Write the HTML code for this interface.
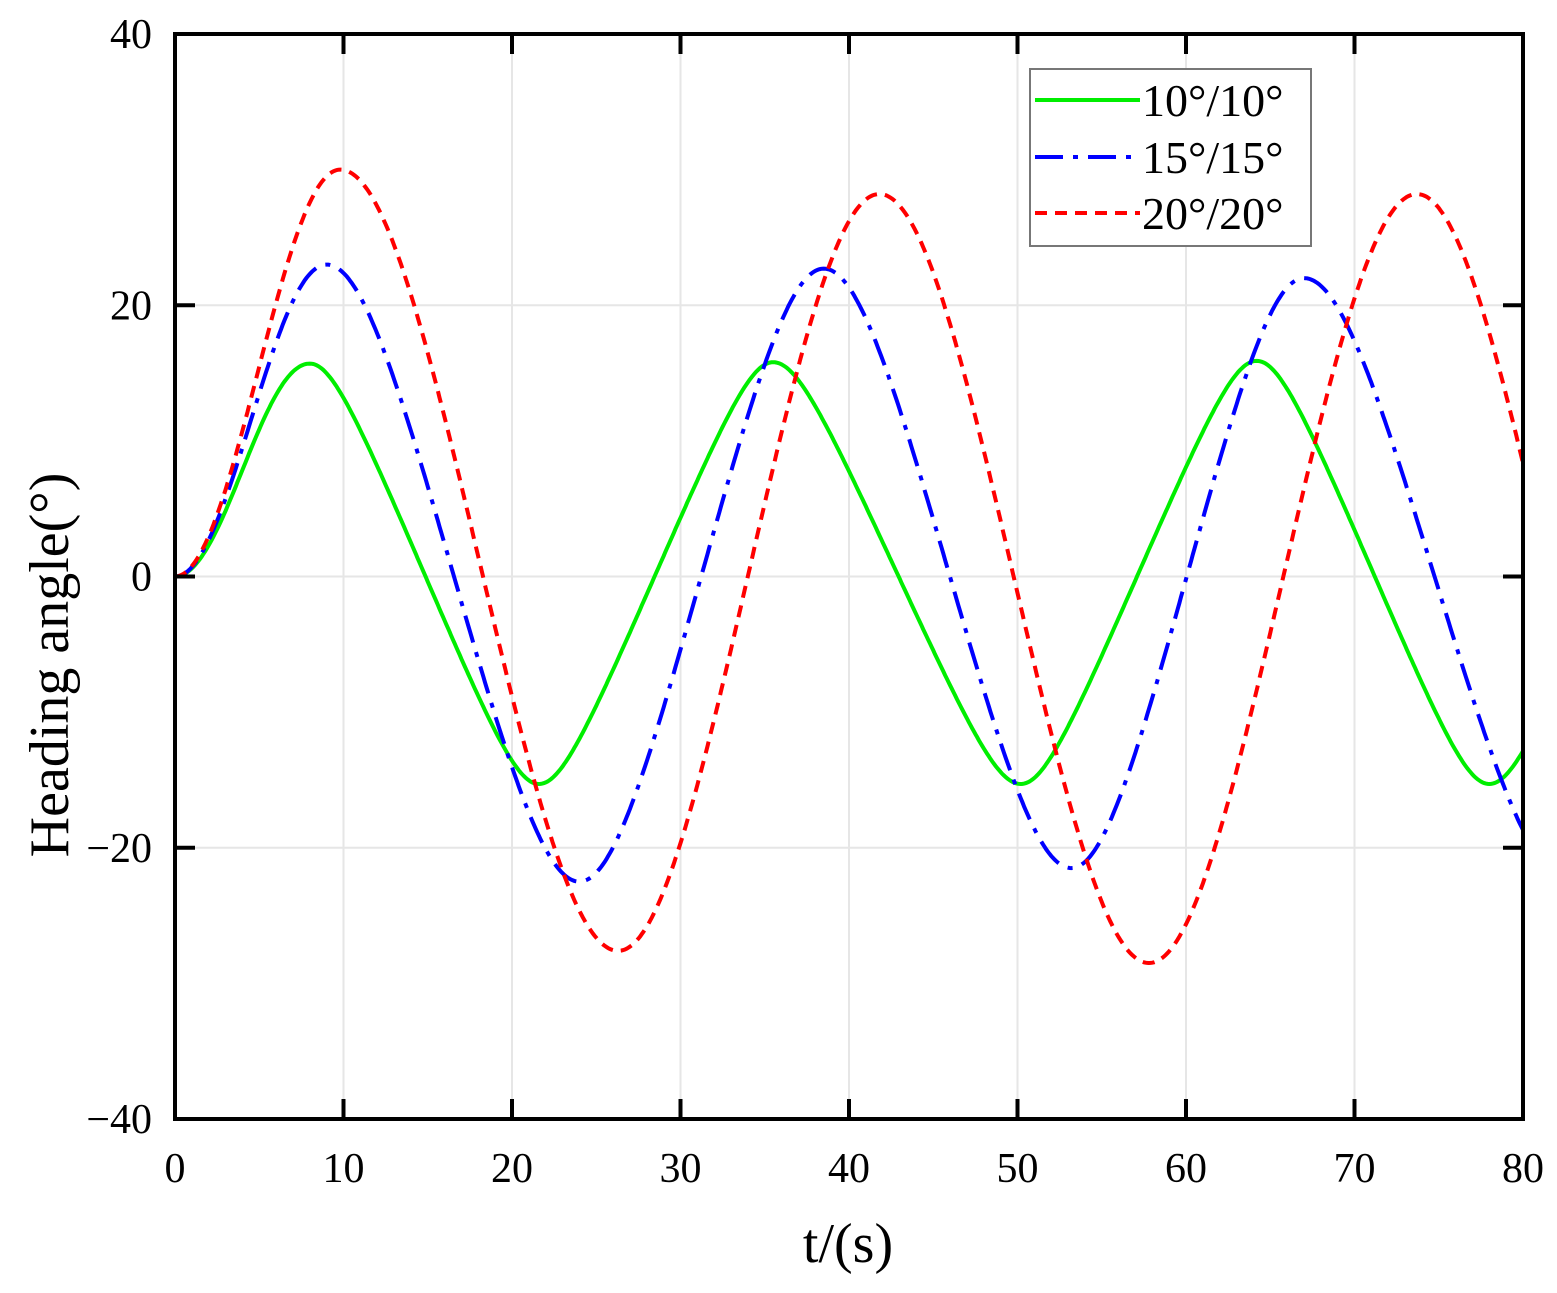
<!DOCTYPE html>
<html><head><meta charset="utf-8"><style>
body{margin:0;background:#fff}
svg text{font-family:"Liberation Serif",serif;fill:#000}
</style></head><body>
<svg id="s" width="1557" height="1288" xmlns="http://www.w3.org/2000/svg">
<g id="grid" stroke="#e6e6e6" stroke-width="2"></g>
<g id="curves" fill="none" stroke-width="4"></g>
<rect x="175" y="34" width="1348" height="1085" fill="none" stroke="#000" stroke-width="4"/>
<g id="ticks" stroke="#000" stroke-width="4"></g>
<g font-size="42" text-anchor="middle" id="xl"></g>
<g font-size="42" text-anchor="end" id="yl"></g>
<text x="848" y="1262" font-size="56" text-anchor="middle">t/(s)</text>
<text transform="translate(68,665) rotate(-90)" font-size="56" text-anchor="middle">Heading angle(°)</text>
<rect x="1030" y="69" width="281" height="177" fill="#fff" stroke="#777" stroke-width="2"/>
<line x1="1035" y1="100" x2="1140" y2="100" stroke="#00ee00" stroke-width="4"/>
<line x1="1035" y1="157" x2="1140" y2="157" stroke="#0000ff" stroke-width="4" stroke-dasharray="28,10,5,10"/>
<line x1="1035" y1="213" x2="1140" y2="213" stroke="#ff0000" stroke-width="4" stroke-dasharray="12,8"/>
<text x="1142" y="116" font-size="46">10°/10°</text>
<text x="1142" y="173" font-size="46">15°/15°</text>
<text x="1142" y="229" font-size="46">20°/20°</text>
</svg>
<script>
const X=t=>175+t*1348/80, Y=v=>576.5-v*1085/80;
const ns="http://www.w3.org/2000/svg";
function el(p,tag,a){const e=document.createElementNS(ns,tag);for(const k in a)e.setAttribute(k,a[k]);document.getElementById(p).appendChild(e);return e;}
for(let t=10;t<80;t+=10){el("grid","line",{x1:X(t),x2:X(t),y1:34,y2:1119});el("ticks","line",{x1:X(t),x2:X(t),y1:1119,y2:1099});el("ticks","line",{x1:X(t),x2:X(t),y1:34,y2:54});}
for(let v=-20;v<=20;v+=20){el("grid","line",{x1:175,x2:1523,y1:Y(v),y2:Y(v)});el("ticks","line",{x1:175,x2:195,y1:Y(v),y2:Y(v)});el("ticks","line",{x1:1523,x2:1503,y1:Y(v),y2:Y(v)});}
for(let t=0;t<=80;t+=10){const e=el("xl","text",{x:X(t),y:1182});e.textContent=t;}
for(let v=-40;v<=40;v+=20){const e=el("yl","text",{x:152,y:Y(v)+14});e.textContent=(v<0?"−":"")+Math.abs(v);}
function curve(pts,color,dash,k){let d="";const a=pts;
for(let t=0;t<=80;t+=0.1){let i=0;while(i<a.length-2&&t>a[i+1][0])i++;
const [t0,v0]=a[i],[t1,v1]=a[i+1];let u=(t-t0)/(t1-t0);
let s;
if(k&&i>0) s=0.5-Math.asin(k*Math.cos(Math.PI*u))/(2*Math.asin(k));
else s=(1-Math.cos(Math.PI*u))/2;
const v=v0+(v1-v0)*s;d+=(d?"L":"M")+X(t).toFixed(1)+","+Y(v).toFixed(1);}
const p=el("curves","path",{d:d,stroke:color});if(dash)p.setAttribute("stroke-dasharray",dash);}
curve([[0,0],[8,15.7],[21.6,-15.3],[35.5,15.8],[50.2,-15.3],[64.2,15.9],[78,-15.3],[92,15.9]],"#00ee00",null,0.9);
curve([[0,0],[9,23],[24,-22.5],[38.5,22.7],[53.2,-21.5],[67,22],[82.5,-22]],"#0000ff","28,10,5,10",0.7);
curve([[0,0],[9.8,30],[26.3,-27.6],[41.8,28.2],[57.8,-28.5],[73.7,28.2],[89.5,-28.5]],"#ff0000","12,8",0.5);
</script>
</body></html>
